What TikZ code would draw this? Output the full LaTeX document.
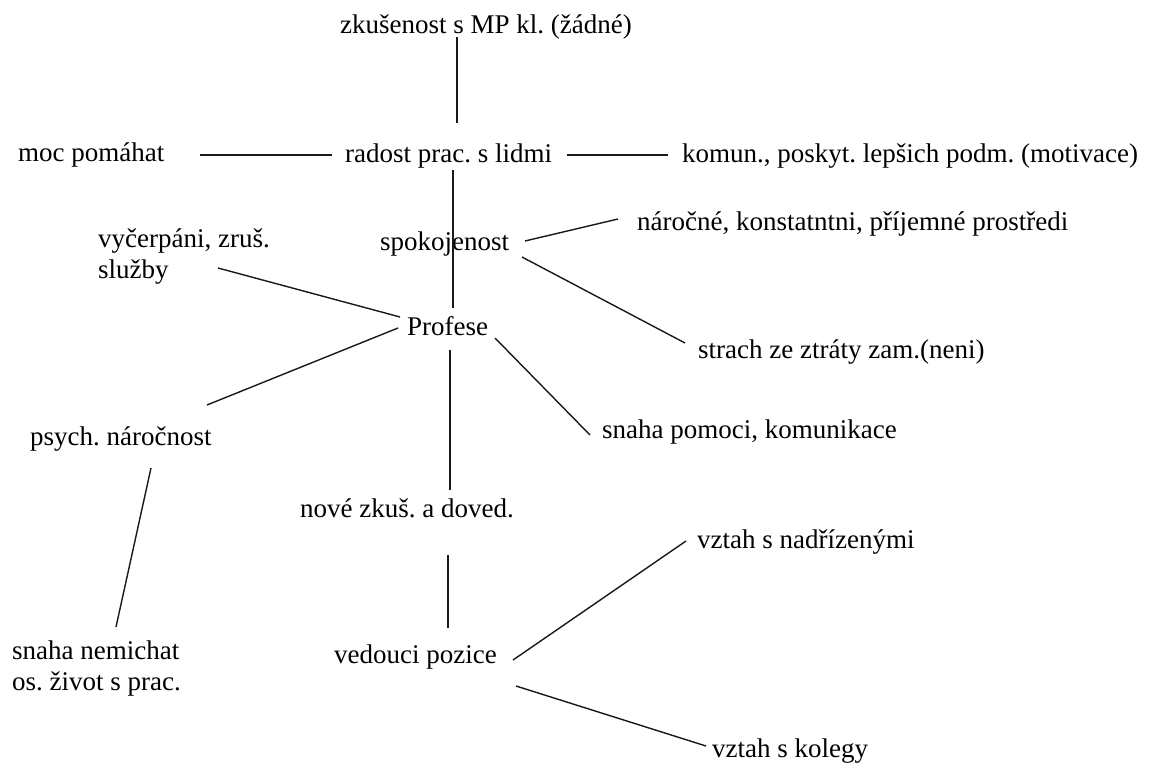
\documentclass[tikz,border=0pt]{standalone}
\usepackage{fontspec}
\setmainfont{LiberationSerif}[Extension=.ttf,UprightFont=*-Regular,BoldFont=*-Bold]
\frenchspacing
\begin{document}
\begin{tikzpicture}[x=1pt,y=-1pt,
  lbl/.style={anchor=base west,inner sep=0pt,font=\fontsize{27}{31}\selectfont,text=black},
  link/.style={draw=black!90,line width=1.4pt}]
\useasboundingbox[fill=white] (0,0) rectangle (1157,771);

% labels (placed by left edge and baseline)
\node[lbl] (zk)      at (340,33)  {zkušenost s MP kl. (žádné)};
\node[lbl] (moc)     at (18,161)  {moc pomáhat};
\node[lbl] (radost)  at (345,162) {radost prac. s lidmi};
\node[lbl] (komun)   at (682,162) {komun., poskyt. lepšich podm. (motivace)};
\node[lbl] (spok)    at (380,250) {spokojenost};
\node[lbl] (narocne) at (637,230) {náročné, konstatntni, příjemné prostředi};
\node[lbl] (vycerp)  at (98,247)  {\begin{tabular}[t]{@{}l@{}}vyčerpáni, zruš.\\ služby\end{tabular}};
\node[lbl] (profese) at (407,335) {Profese};
\node[lbl] (strach)  at (698,358) {strach ze ztráty zam.(neni)};
\node[lbl] (psych)   at (30,445)  {psych. náročnost};
\node[lbl] (snahapo) at (602,438) {snaha pomoci, komunikace};
\node[lbl] (nove)    at (300,517) {nové zkuš. a doved.};
\node[lbl] (nadr)    at (697,548) {vztah s nadřízenými};
\node[lbl] (snahane) at (12,659)  {\begin{tabular}[t]{@{}l@{}}snaha nemichat\\ os. život s prac.\end{tabular}};
\node[lbl] (vedouci) at (334,663) {vedouci pozice};
\node[lbl] (kolegy)  at (712,757) {vztah s kolegy};

% free ends of the connectors
\coordinate (zk-e)      at (457,37);
\coordinate (radost-n)  at (457,123);
\coordinate (moc-e)     at (200,155);
\coordinate (radost-w)  at (332,155);
\coordinate (radost-e)  at (567,155);
\coordinate (komun-w)   at (668,155);
\coordinate (radost-s)  at (453,170);
\coordinate (profese-n) at (453,308);
\coordinate (spok-e1)   at (525,241);
\coordinate (narocne-w) at (618,219);
\coordinate (spok-e2)   at (522,257);
\coordinate (strach-w)  at (685,343);
\coordinate (vycerp-e)  at (218,268);
\coordinate (profese-w1) at (400,317);
\coordinate (profese-w2) at (398,328);
\coordinate (psych-n)   at (207,405);
\coordinate (profese-e) at (495,338);
\coordinate (snahapo-w) at (590,435);
\coordinate (profese-s) at (450,350);
\coordinate (nove-n)    at (450,490);
\coordinate (psych-s)   at (151,468);
\coordinate (snahane-n) at (116,627);
\coordinate (nove-s)    at (448,555);
\coordinate (vedouci-n) at (448,628);
\coordinate (vedouci-e1) at (513,660);
\coordinate (nadr-w)    at (686,541);
\coordinate (vedouci-e2) at (516,686);
\coordinate (kolegy-w)  at (706,746);

% connectors
\draw[link] (zk-e) -- (radost-n);
\draw[link] (moc-e) -- (radost-w);
\draw[link] (radost-e) -- (komun-w);
\draw[link] (radost-s) -- (profese-n);
\draw[link] (spok-e1) -- (narocne-w);
\draw[link] (spok-e2) -- (strach-w);
\draw[link] (vycerp-e) -- (profese-w1);
\draw[link] (profese-w2) -- (psych-n);
\draw[link] (profese-e) -- (snahapo-w);
\draw[link] (profese-s) -- (nove-n);
\draw[link] (psych-s) -- (snahane-n);
\draw[link] (nove-s) -- (vedouci-n);
\draw[link] (vedouci-e1) -- (nadr-w);
\draw[link] (vedouci-e2) -- (kolegy-w);
\end{tikzpicture}
\end{document}
